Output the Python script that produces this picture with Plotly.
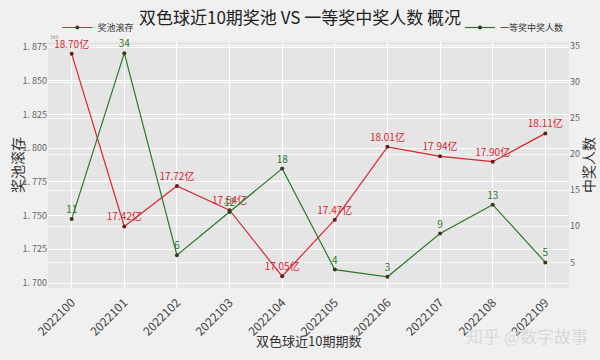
import plotly.graph_objects as go

periods = ["2022100", "2022101", "2022102", "2022103", "2022104",
           "2022105", "2022106", "2022107", "2022108", "2022109"]
pool_yi = [18.70, 17.42, 17.72, 17.54, 17.05, 17.47, 18.01, 17.94, 17.90, 18.11]
winners = [11, 34, 6, 12, 18, 4, 3, 9, 13, 5]
left_ticks = [1.700, 1.725, 1.750, 1.775, 1.800, 1.825, 1.850, 1.875]
left_ticktext = ["1. 700", "1. 725", "1. 750", "1. 775", "1. 800", "1. 825", "1. 850", "1. 875"]
right_ticks = [5, 10, 15, 20, 25, 30, 35]

FONT = "Noto Sans CJK SC"
RED = "#dc2430"
GREEN = "#2a7a2a"

W, H = 600, 360
ML, MR, MT, MB = 48, 31, 42, 72
PW, PH = W - ML - MR, H - MT - MB


def px(x):
    return (x - ML) / PW


def py(y):
    return (H - MB - y) / PH


pool_scaled = [v / 10 for v in pool_yi]
pool_text = [f"{v:.2f}亿" for v in pool_yi]

fig = go.Figure()
fig.add_trace(go.Scatter(
    x=periods, y=pool_scaled, mode="lines+markers+text", name="奖池滚存",
    line=dict(color=RED, width=1.2),
    marker=dict(size=4, color="#6b1a1a"),
    text=pool_text, textposition="top center",
    textfont=dict(color=RED, size=10, family=FONT),
    legend="legend", yaxis="y", cliponaxis=False, showlegend=True))
fig.add_trace(go.Scatter(
    x=periods, y=winners, mode="lines+markers+text", name="一等奖中奖人数",
    line=dict(color=GREEN, width=1.2),
    marker=dict(size=4, color="#3a3a1a"),
    text=[str(w) for w in winners], textposition="top center",
    textfont=dict(color=GREEN, size=10, family=FONT),
    legend="legend2", yaxis="y2", cliponaxis=False, showlegend=True))

fig.update_layout(
    width=W, height=H, showlegend=True,
    margin=dict(l=ML, r=MR, t=MT, b=MB, autoexpand=False),
    paper_bgcolor="#f0f0f0", plot_bgcolor="#e5e5e5",
    font=dict(family=FONT, color="#555555", size=10),
    title=dict(text="双色球近10期奖池 VS 一等奖中奖人数 概况", x=0.5, xanchor="center",
               y=0.95, yanchor="middle", font=dict(size=17, color="#222222", family=FONT)),
    xaxis=dict(type="category", range=[-0.45, 9.45], tickangle=-45, automargin=False,
               tickfont=dict(size=12, color="#444444"), showgrid=True, gridcolor="#ffffff",
               gridwidth=1, zeroline=False, ticks="outside", ticklen=2, tickcolor="rgba(0,0,0,0)"),
    yaxis=dict(range=[1.6963, 1.8788], tickvals=left_ticks, ticktext=left_ticktext, automargin=False,
               tickfont=dict(size=9, color="#666666"), showgrid=True, gridcolor="#ffffff",
               zeroline=False, ticks=""),
    yaxis2=dict(range=[1.45, 35.55], overlaying="y", side="right", tickvals=right_ticks, automargin=False,
                tickfont=dict(size=9, color="#666666"), showgrid=True, gridcolor="#f7f7f7",
                zeroline=False, ticks=""),
    legend=dict(x=0.018, y=1.0, xanchor="left", yanchor="bottom", bgcolor="rgba(0,0,0,0)",
                font=dict(size=9, color="#333333"), itemwidth=30),
    legend2=dict(x=1.0, y=1.0, xanchor="right", yanchor="bottom", bgcolor="rgba(0,0,0,0)",
                 font=dict(size=9, color="#333333"), itemwidth=30),
    annotations=[
        dict(text="1e9", x=0, y=1.0, xref="paper", yref="paper", xanchor="left", yanchor="bottom",
             showarrow=False, font=dict(size=5, color="#888888")),
        dict(text="双色球近10期期数", x=px(308), y=py(340), xref="paper", yref="paper",
             showarrow=False, font=dict(size=13, color="#333333", family=FONT),
             xanchor="center", yanchor="middle"),
        dict(text="奖池滚存", x=px(17), y=py(165), xref="paper", yref="paper", textangle=-90,
             showarrow=False, font=dict(size=14, color="#333333", family=FONT),
             xanchor="center", yanchor="middle"),
        dict(text="中奖人数", x=px(588), y=py(165), xref="paper", yref="paper", textangle=-90,
             showarrow=False, font=dict(size=14, color="#333333", family=FONT),
             xanchor="center", yanchor="middle"),
        dict(text="知乎 @数字故事", x=px(590), y=py(335), xref="paper", yref="paper", showarrow=False,
             font=dict(size=17, color="#d8d8d8", family=FONT), xanchor="right", yanchor="middle"),
    ],
)

fig.write_html("out.html", config={"displayModeBar": False},
               post_script="document.body.style.margin='0';document.body.style.overflow='hidden';")
